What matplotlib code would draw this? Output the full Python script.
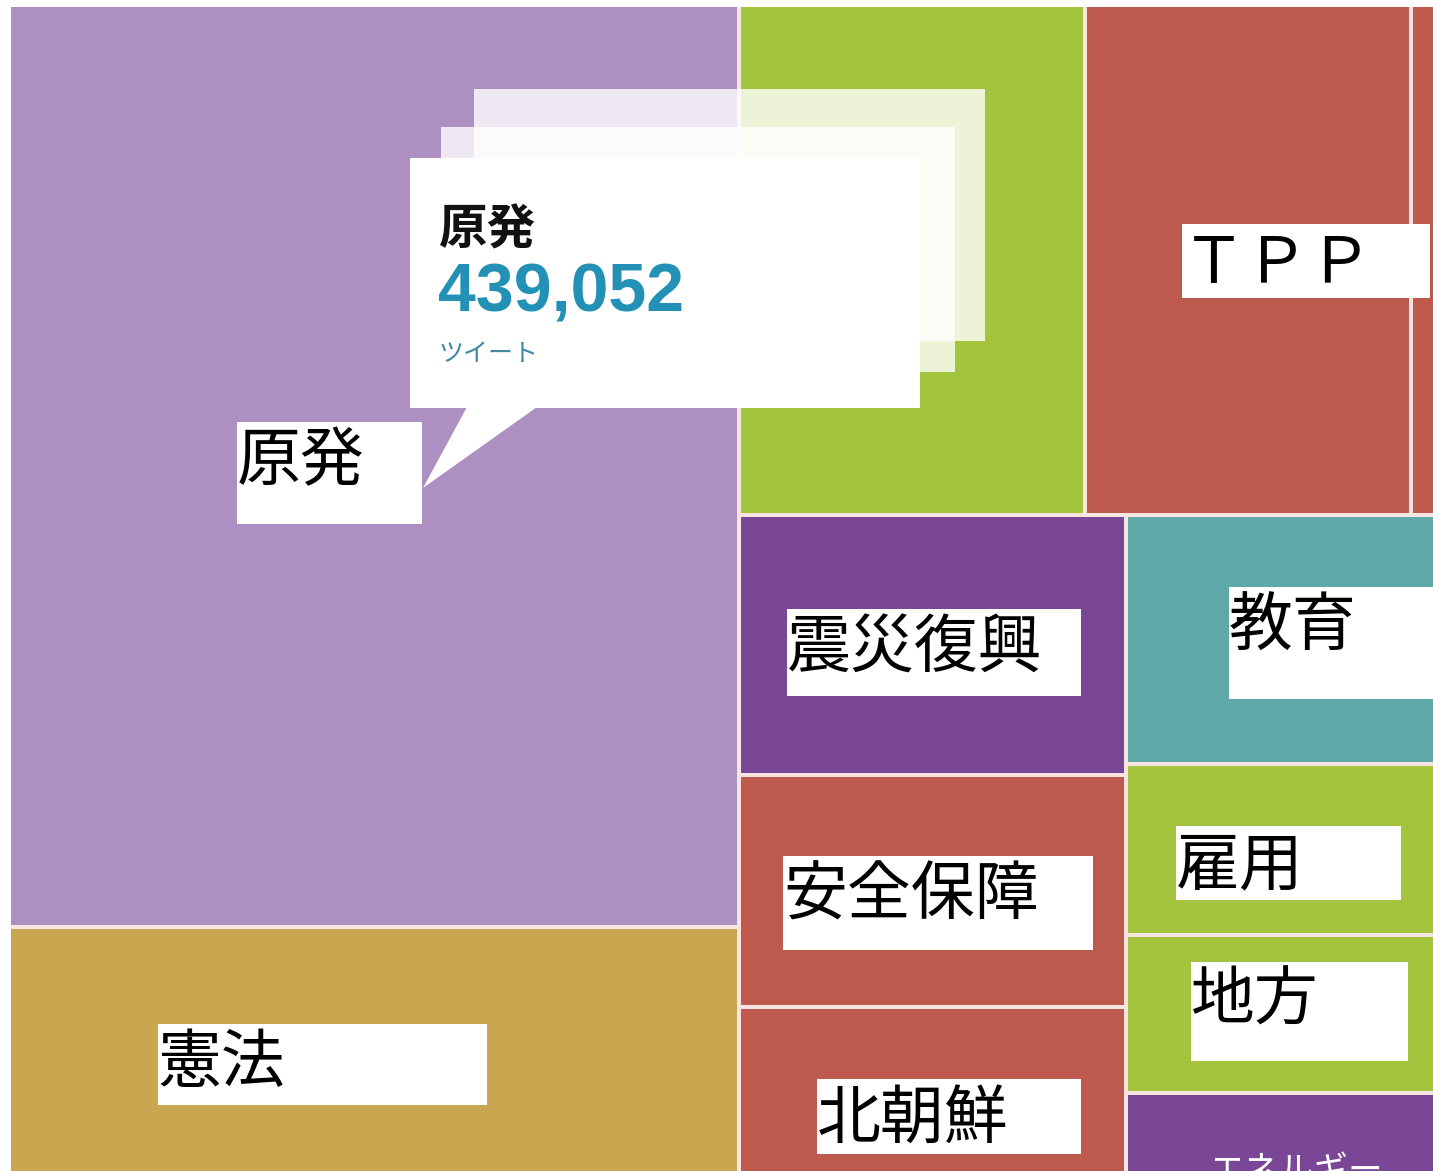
import matplotlib.pyplot as plt
from matplotlib.patches import Rectangle, Polygon

plt.rcParams['font.family'] = ['Noto Sans CJK JP', 'DejaVu Sans']

topics = ['原発', '憲法', '景気対策', 'ＴＰＰ', '消費税', '震災復興', '安全保障', '北朝鮮',
          '教育', '雇用', '地方', 'エネルギー']
tweets = [439052, 119050, 115220, 108560, 9320, 65550, 58490, 42740,
          50920, 34770, 32310, 17280]
colors = ['#ad8fc1', '#c9a650', '#a4c43d', '#bd594d', '#bd594d', '#7a4696', '#bd594d', '#bd594d',
          '#5ea9a7', '#a4c43d', '#a4c43d', '#7a4696']
value = dict(zip(topics, tweets))
color = dict(zip(topics, colors))

# treemap nesting: 'h' = side by side, 'v' = stacked
tree = ('h', [('v', ['原発', '憲法']),
              ('v', [('h', ['景気対策', 'ＴＰＰ', '消費税']),
                     ('h', [('v', ['震災復興', '安全保障', '北朝鮮']),
                            ('v', ['教育', '雇用', '地方', 'エネルギー'])])])])


def total(node):
    if isinstance(node, str):
        return value[node]
    return sum(total(c) for c in node[1])


def layout(node, x, y, w, h, out):
    if isinstance(node, str):
        out[node] = (x, y, w, h)
        return
    kind, kids = node
    s = total(node)
    for c in kids:
        f = total(c) / s
        if kind == 'h':
            layout(c, x, y, w * f, h, out)
            x += w * f
        else:
            layout(c, x, y, w, h * f, out)
            y += h * f


rects = {}
layout(tree, 9, 5, 1430, 1172, rects)

fig = plt.figure(figsize=(14.33, 11.71), dpi=100)
ax = fig.add_axes([0, 0, 1, 1])
ax.set_xlim(0, 1433)
ax.set_ylim(1171, 0)
ax.axis('off')

gap = 2
ax.add_patch(Rectangle((11, 7), 1430, 1172, color='#f8e4e1', lw=0))
for name in topics:
    x, y, w, h = rects[name]
    ax.add_patch(Rectangle((x + gap, y + gap), w - 2 * gap, h - 2 * gap,
                           color=color[name], lw=0))

# label boxes: offset from tile corner, box size
label_box = {
    '原発': (226, 415, 185, 102),
    '憲法': (147, 95, 329, 81),
    'ＴＰＰ': (95, 217, 248, 74),
    '震災復興': (46, 92, 294, 87),
    '教育': (101, 70, 215, 112),
    '安全保障': (42, 79, 310, 94),
    '雇用': (48, 60, 225, 74),
    '地方': (63, 25, 217, 99),
    '北朝鮮': (76, 70, 264, 75),
}
for name, (dx, dy, bw, bh) in label_box.items():
    x, y, w, h = rects[name]
    bx, by = x + gap + dx, y + gap + dy
    ax.add_patch(Rectangle((bx, by), bw, bh, color='white', lw=0))
    ax.text(bx, by + 40, name, fontsize=46, color='black', ha='left', va='center')

x, y, w, h = rects['エネルギー']
ax.text(x + gap + 82, y + gap + 77, 'エネルギー', fontsize=25, color='white',
        ha='left', va='center')

# tooltip with stacked translucent cards
ax.add_patch(Rectangle((474, 89), 511, 252, color='white', alpha=0.8, lw=0))
ax.add_patch(Rectangle((441, 127), 514, 245, color='white', alpha=0.8, lw=0))
ax.add_patch(Rectangle((410, 158), 510, 250, color='white', lw=0))
ax.add_patch(Polygon([(467, 407), (537, 407), (423, 488)], closed=True, color='white', lw=0))

ax.text(438, 230, '原発', fontsize=35, fontweight='bold', color='#111111', ha='left', va='center')
ax.text(438, 294, f"{value['原発']:,}", fontsize=49, fontweight='bold', color='#2291b5',
        family=['Liberation Sans', 'DejaVu Sans'], ha='left', va='center')
ax.text(439, 354, 'ツイート', fontsize=18, color='#3f88a3', ha='left', va='center')

fig.savefig('out.png', dpi=100)
